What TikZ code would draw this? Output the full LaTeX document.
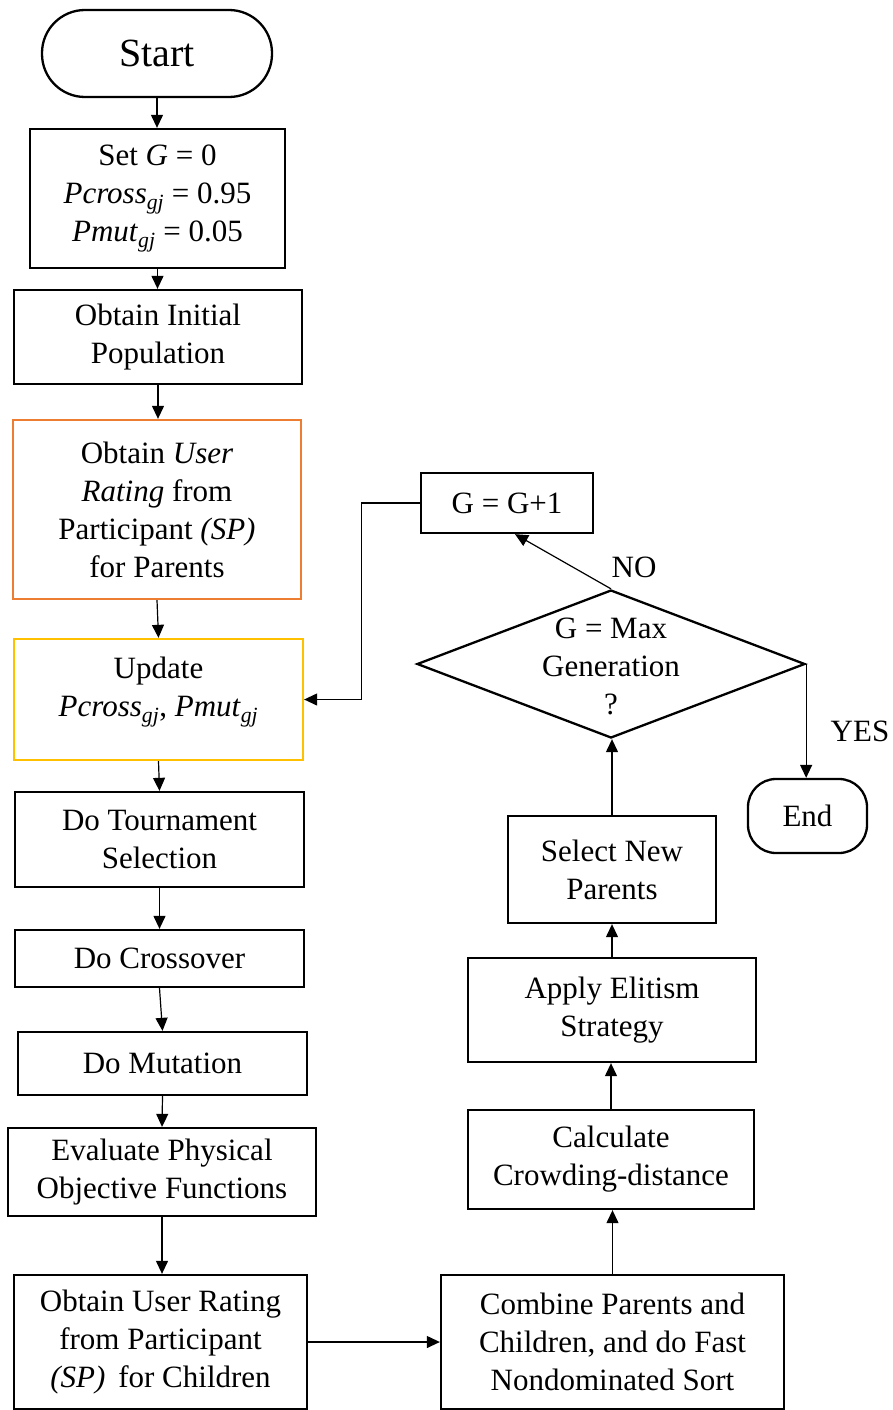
\documentclass[tikz,border=0pt]{standalone}
\usepackage{fontspec}
\setmainfont{Liberation Serif}
\usetikzlibrary{arrows.meta,shapes.geometric,calc}
\definecolor{boxorange}{RGB}{237,125,49}
\definecolor{boxyellow}{RGB}{255,192,0}
\begin{document}
\begin{tikzpicture}[x=1pt,y=-1pt,
  txt/.style={font=\fontsize{31}{38}\selectfont, align=center, inner sep=0pt},
  box/.style={txt, draw=black, line width=2.3pt, rectangle},
  term/.style={box, rounded corners=#1},
  decision/.style={draw=black, line width=2.3pt, diamond, aspect=2.62, inner sep=0pt, minimum width=388pt, minimum height=148pt},
  arr/.style={line width=1.2pt, -{Triangle[length=13pt,width=12pt]}}
]
\useasboundingbox (0,0) rectangle (892,1410);

% left column
\node[term=43pt, minimum width=230pt, minimum height=87pt, font=\fontsize{40}{48}\selectfont] (start) at (157,53.5) {Start};
\node[box, minimum width=255pt, minimum height=139pt] (setg) at (157.5,198.5)
  {Set \textit{G} = 0\\ \textit{Pcross}\textsubscript{\textit{gj}} = 0.95\\ \textit{Pmut}\textsubscript{\textit{gj}} = 0.05};
\node[box, minimum width=288pt, minimum height=94pt] (init) at (158,337) {Obtain Initial\\Population};
\node[box, draw=boxorange, minimum width=288pt, minimum height=179pt] (rate) at (157,509.5)
  {Obtain \textit{User}\\ \textit{Rating} from\\ Participant \textit{(SP)}\\ for Parents};
\node[box, draw=boxyellow, minimum width=289pt, minimum height=121pt] (upd) at (158.5,699.5) {};
\node[txt] (updtxt) at (158.5,692)
  {Update\\ \textit{Pcross}\textsubscript{\textit{gj}}, \textit{Pmut}\textsubscript{\textit{gj}}};
\node[box, minimum width=289pt, minimum height=95pt] (tour) at (159.5,839.5) {Do Tournament\\Selection};
\node[box, minimum width=289pt, minimum height=57pt] (cross) at (159.5,958.5) {Do Crossover};
\node[box, minimum width=289pt, minimum height=63pt] (mut) at (162.5,1063.5) {Do Mutation};
\node[box, minimum width=308pt, minimum height=88pt] (eval) at (162,1172) {Evaluate Physical\\Objective Functions};
\node[box, minimum width=293pt, minimum height=134pt] (child) at (160.5,1342)
  {Obtain User Rating\\from Participant\\ \textit{(SP)}\, for Children};

% right column
\node[box, minimum width=343pt, minimum height=134pt] (comb) at (612.5,1342)
  {Combine Parents and\\Children, and do Fast\\Nondominated Sort};
\node[box, minimum width=286pt, minimum height=99pt] (calc) at (611,1159.5) {Calculate\\Crowding-distance};
\node[box, minimum width=288pt, minimum height=104pt] (elit) at (612,1010) {Apply Elitism\\Strategy};
\node[box, minimum width=208pt, minimum height=107pt] (sel) at (612,869.5) {Select New\\Parents};
\node[decision] (dec) at (611,664) {};
\node[txt] (dectxt) at (611,666) {G = Max\\Generation\\?};
\node[box, minimum width=172pt, minimum height=60pt] (inc) at (507,503) {G = G+1};
\node[term=28pt, minimum width=119pt, minimum height=74pt] (end) at (807.5,816) {End};

\node[txt] (no) at (634,567) {NO};
\node[txt] (yes) at (860,731) {YES};

% connectors
\draw[arr] (start.south) -- (start.south |- setg.north);
\draw[arr] (setg.south) -- (setg.south |- init.north);
\draw[arr] (init.south) -- (init.south |- rate.north);
\draw[arr] (rate.south) -- (upd.north);
\draw[arr] (upd.south) -- (tour.north);
\draw[arr] (tour.south) -- (tour.south |- cross.north);
\draw[arr] (cross.south) -- (mut.north);
\draw[arr] (mut.south) -- (eval.north);
\draw[arr] (eval.south) -- (eval.south |- child.north);
\draw[arr] (child.east) -- (comb.west);
\draw[arr] (comb.north) -- (comb.north |- calc.south);
\draw[arr] (calc.north) -- (calc.north |- elit.south);
\draw[arr] (elit.north) -- (elit.north |- sel.south);
\draw[arr] (sel.north) -- (sel.north |- dec.south);
\draw[arr] (dec.north) -- ([xshift=8pt]inc.south);
\draw[arr] (dec.east) -- (dec.east |- end.north);
\draw[arr] (inc.west) -- ++(-58,0) |- (upd.east);
\end{tikzpicture}
\end{document}
